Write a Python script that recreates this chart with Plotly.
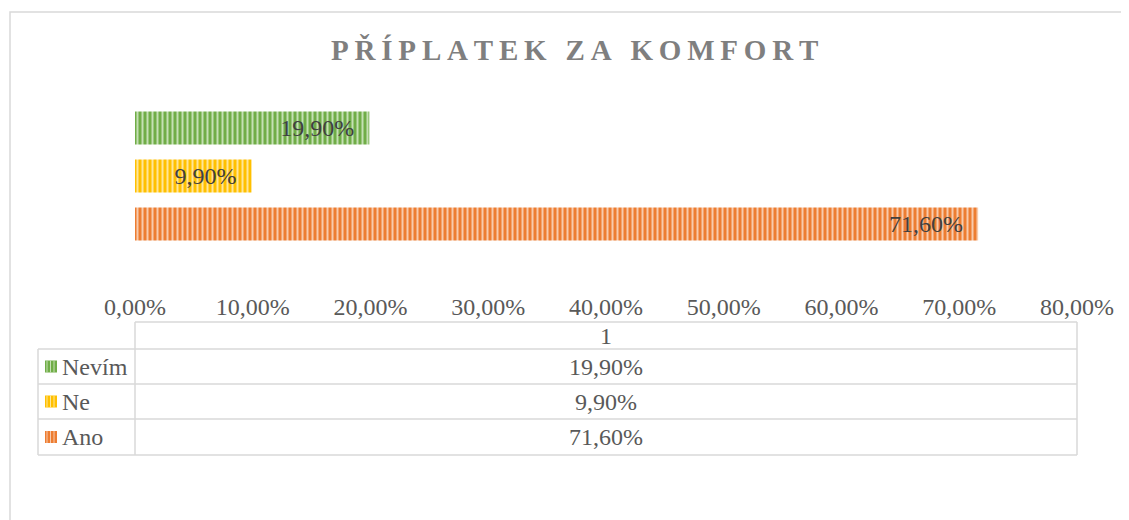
import plotly.graph_objects as go

# ---- data ----
categories = ["Ano", "Ne", "Nevím"]          # bottom to top in the chart
values = [0.716, 0.099, 0.199]
colors = ["#ED7D31", "#FFC000", "#70AD47"]
stripe_colors = ["#F8CBAD", "#FFE699", "#C5E0B4"]
table_header = "1"
table_order = ["Nevím", "Ne", "Ano"]        # table rows top to bottom
title_text = "PŘÍPLATEK ZA KOMFORT"
tick_values = [0, 0.1, 0.2, 0.3, 0.4, 0.5, 0.6, 0.7, 0.8]

OFF = 8                      # page body margin
W, H = 1129 - OFF, 520 - OFF
# plot area in page pixels
PL, PR, PT, PB = 135, 1077, 100, 290
L, R, T, B = PL - OFF, PR - OFF, PT - OFF, PB - OFF
FONT = "Liberation Serif"

def px_x(p):
    return (p - PL) / (PR - PL)

def px_y(p):
    return (PB - p) / (PB - PT)

def fmt(v):
    return f"{v*100:.2f}".replace(".", ",") + "%"

fig = go.Figure()
ypos = list(range(len(categories)))
for i, cat in enumerate(categories):
    fig.add_trace(go.Bar(
        y=[ypos[i]], x=[values[i]], orientation="h", name=cat,
        width=0.69,
        marker=dict(color=colors[i], line=dict(width=0),
                    pattern=dict(shape="|", fgcolor=stripe_colors[i], bgcolor=colors[i],
                                 size=5, solidity=0.4, fillmode="replace")),
        text=[fmt(values[i]) + "\u00a0\u00a0"],
        textposition="inside", insidetextanchor="end",
        textfont=dict(family=FONT, size=24, color="#404040"),
        showlegend=False, cliponaxis=False,
    ))

shapes = []
annotations = []
line = dict(color="#D9D9D9", width=1.5)

# outer chart border
shapes.append(dict(type="rect", xref="paper", yref="paper",
                   x0=px_x(10), x1=px_x(1140), y0=px_y(530), y1=px_y(12),
                   line=line, fillcolor="rgba(0,0,0,0)", layer="below"))

# data table
row_lines = [349, 384, 419, 455]
tab_top = 322
tab_left = 38
shapes.append(dict(type="line", xref="paper", yref="paper", x0=px_x(PL), x1=px_x(PR),
                   y0=px_y(tab_top), y1=px_y(tab_top), line=line))
for yl in row_lines:
    shapes.append(dict(type="line", xref="paper", yref="paper", x0=px_x(tab_left), x1=px_x(PR),
                       y0=px_y(yl), y1=px_y(yl), line=line))
shapes.append(dict(type="line", xref="paper", yref="paper", x0=px_x(PL), x1=px_x(PL),
                   y0=px_y(tab_top), y1=px_y(row_lines[-1]), line=line))
shapes.append(dict(type="line", xref="paper", yref="paper", x0=px_x(PR), x1=px_x(PR),
                   y0=px_y(tab_top), y1=px_y(row_lines[-1]), line=line))
shapes.append(dict(type="line", xref="paper", yref="paper", x0=px_x(tab_left), x1=px_x(tab_left),
                   y0=px_y(row_lines[0]), y1=px_y(row_lines[-1]), line=line))

tfont = dict(family=FONT, size=24, color="#595959")
mid_x = px_x((PL + PR) / 2)
annotations.append(dict(xref="paper", yref="paper", x=mid_x, y=px_y((tab_top + row_lines[0]) / 2),
                        xanchor="center", yanchor="middle",
                        text=table_header, showarrow=False, font=tfont))
for r, cat in enumerate(table_order):
    i = categories.index(cat)
    yc = (row_lines[r] + row_lines[r + 1]) / 2
    annotations.append(dict(xref="paper", yref="paper", x=mid_x, y=px_y(yc),
                            xanchor="center", yanchor="middle",
                            text=fmt(values[i]), showarrow=False, font=tfont))
    annotations.append(dict(xref="paper", yref="paper", x=px_x(60), y=px_y(yc),
                            xanchor="left", yanchor="middle",
                            text=cat, showarrow=False, font=tfont))
    shapes.append(dict(type="rect", xref="paper", yref="paper",
                       x0=px_x(45), x1=px_x(57), y0=px_y(yc + 6), y1=px_y(yc - 6),
                       line=dict(width=0), fillcolor=colors[i]))
    for k in range(3):
        xs = 47 + k * 3.5
        shapes.append(dict(type="line", xref="paper", yref="paper",
                           x0=px_x(xs), x1=px_x(xs), y0=px_y(yc + 6), y1=px_y(yc - 6),
                           line=dict(width=1, color=stripe_colors[i])))

# title
annotations.append(dict(xref="paper", yref="paper", x=px_x(574), y=px_y(50),
                        xanchor="center", yanchor="middle",
                        text="<b>" + "\u2009".join(list(title_text)) + "</b>", showarrow=False,
                        font=dict(family=FONT, size=29, color="#7F7F7F")))

fig.update_layout(
    width=W, height=H,
    margin=dict(l=L, r=W - R, t=T, b=H - B, pad=0),
    paper_bgcolor="white", plot_bgcolor="white",
    separators=", ",
    barmode="overlay",
    uniformtext=dict(minsize=24, mode="show"),
    xaxis=dict(range=[0, 0.8], tickvals=tick_values, tickformat=".2%",
               showgrid=False, zeroline=False, showline=False, ticks="",
               tickfont=dict(family=FONT, size=24, color="#595959")),
    yaxis=dict(range=[-1.375, 2.583], showticklabels=False, showgrid=False,
               zeroline=False, showline=False, fixedrange=True),
    shapes=shapes, annotations=annotations,
)

fig.write_html("out.html")
